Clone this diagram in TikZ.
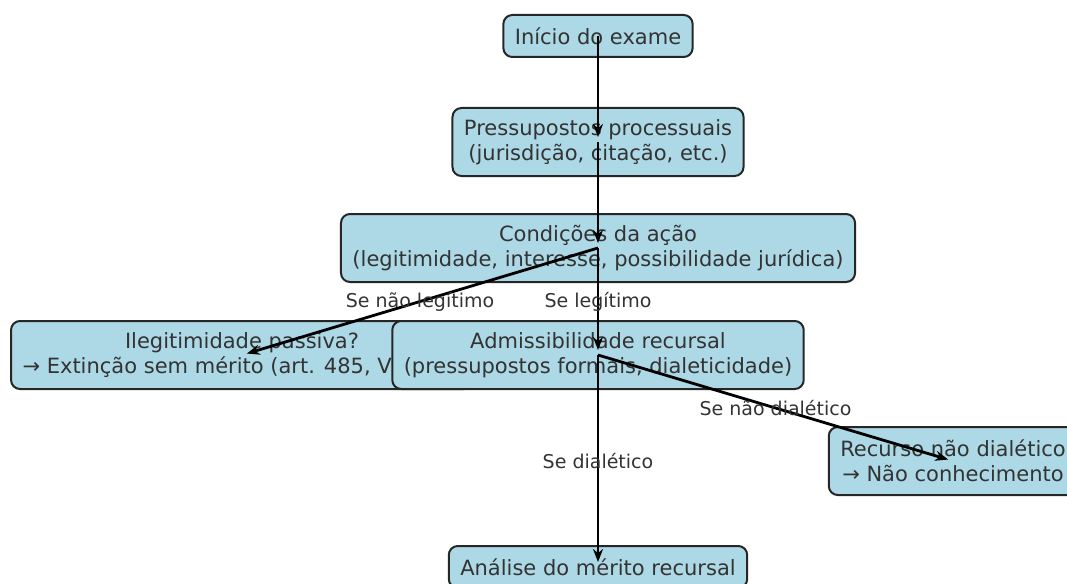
\documentclass[tikz,border=0pt]{standalone}
\usepackage{fontspec}
\setmainfont{DejaVu Sans}
\usetikzlibrary{arrows.meta,positioning}
\definecolor{hellblau}{HTML}{ADD8E6}
\definecolor{schrift}{HTML}{333333}
\tikzset{
  kasten/.style={draw=black!85, line width=2pt, fill=hellblau, rounded corners=9pt,
    text=schrift, font=\fontsize{21}{25}\selectfont, align=center,
    inner xsep=11.5pt, inner ysep=4pt, minimum height=42pt},
  kasten2/.style={kasten, minimum height=68pt},
  pfeil/.style={line width=2.8pt, -{Stealth[length=13pt,width=10pt]}, shorten >=5pt},
  beschr/.style={text=schrift, font=\fontsize{19}{22}\selectfont}
}
\begin{document}
\begin{tikzpicture}[x=1pt,y=-1pt]
\useasboundingbox (0,0) rectangle (1067,583);
\clip (0,0) rectangle (1067,583);
%Kaesten, Reihenfolge wichtig (Admissibilidade liegt ueber Ilegitimidade)
\node[kasten]  (inicio) at (598,36)  {Início do exame};
\node[kasten2] (press)  at (598,142) {Pressupostos processuais\\(jurisdição, citação, etc.)};
\node[kasten2] (cond)   at (598,248) {Condições da ação\\(legitimidade, interesse, possibilidade jurídica)};
\node[kasten2] (ileg)   at (242,355) {Ilegitimidade passiva?\\→ Extinção sem mérito (art. 485, VI, CPC)};
\node[kasten2] (admis)  at (598,355) {Admissibilidade recursal\\(pressupostos formais, dialeticidade)};
\node[kasten2] (naodia) at (953,461) {Recurso não dialético\\→ Não conhecimento};
\node[kasten]  (merito) at (598,567) {Análise do mérito recursal};
%Pfeile immer von Mitte zu Mitte
\draw[pfeil] (inicio.center) -- (press.center);
\draw[pfeil] (press.center) -- (cond.center);
\draw[pfeil] (cond.center) -- node[beschr] {Se não legítimo} (ileg.center);
\draw[pfeil] (cond.center) -- node[beschr] {Se legítimo} (admis.center);
\draw[pfeil] (admis.center) -- node[beschr] {Se não dialético} (naodia.center);
\draw[pfeil] (admis.center) -- node[beschr] {Se dialético} (merito.center);
\end{tikzpicture}
\end{document}
